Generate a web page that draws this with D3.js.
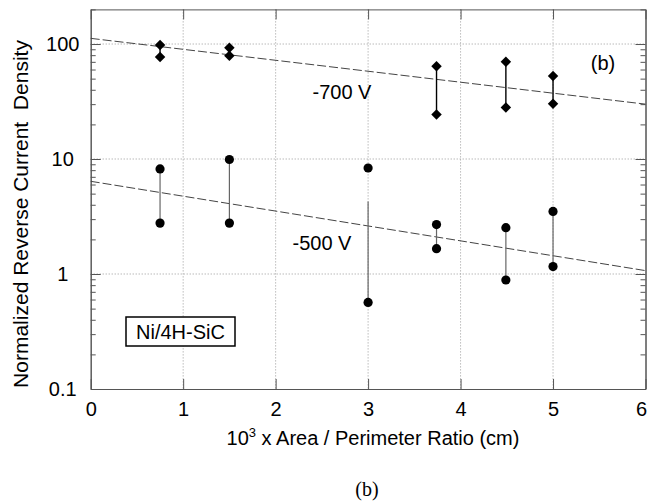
<!DOCTYPE html>
<html>
<head>
<meta charset="utf-8">
<script src="https://cdn.jsdelivr.net/npm/d3@7"></script>
<style>
  html, body { margin: 0; padding: 0; background: #fff; }
  svg { display: block; }
  text { font-family: "Liberation Sans", Arial, Helvetica, sans-serif; fill: #000; }
</style>
</head>
<body>
<svg id="chart" width="647" height="502"></svg>
<script>
// ---- data ----
const xTicks = [0, 1, 2, 3, 4, 5, 6];
const yMajorTicks = [0.1, 1, 10, 100];
const yTickLabels = ["0.1", "1", "10", "100"];

// -700 V series (diamonds)
const x700 = [0.75, 1.5, 3.74, 4.49, 5.0];
const hi700 = [98, 93, 64, 70, 52.7];
const lo700 = [77, 79, 24.4, 28.1, 30.3];

// -500 V series (circles)
const x500 = [0.75, 1.5, 3.0, 3.74, 4.49, 5.0];
const hi500 = [8.2, 9.9, 8.35, 2.69, 2.53, 3.5];
const lo500 = [2.77, 2.77, 0.566, 1.66, 0.887, 1.16];
const connTop500 = [8.2, 9.9, 4.28, 2.69, 2.53, 3.5];

// fit lines (value at x=0 and x=6)
const fitX = [0, 6];
const fit700 = [112, 30];
const fit500 = [6.4, 1.07];

// ---- layout ----
const svg = d3.select("#chart");
const L = 90.7, R = 645.5, T = 9.4, B = 389;
const x = d3.scaleLinear().domain([0, 6]).range([L, R]);
const y = d3.scaleLog().domain([0.1, 200]).range([B, T]);

const frameColor = "#555";

// minor y ticks
const yMinor = [];
[0.1, 1, 10, 100].forEach(d => { for (let k = 2; k <= 9; k++) { const v = d * k; if (v <= 200) yMinor.push(v); } });

// grid (dotted)
const grid = svg.append("g").attr("stroke", "#999").attr("stroke-width", 1).attr("stroke-dasharray", "1,2");
grid.selectAll("line.gx").data([1, 2, 3, 4, 5]).join("line")
  .attr("x1", d => x(d)).attr("x2", d => x(d)).attr("y1", T).attr("y2", B);
grid.selectAll("line.gy").data([1, 10, 100]).join("line")
  .attr("x1", L).attr("x2", R).attr("y1", d => y(d)).attr("y2", d => y(d));

// axes
function styleAxis(g) {
  g.select(".domain").attr("stroke", frameColor);
  g.selectAll(".tick line").attr("stroke", frameColor);
  g.selectAll(".tick text").attr("font-size", 21).attr("font-family", "Liberation Sans, Arial, sans-serif").attr("fill", "#000");
}

// bottom
const gB = svg.append("g").attr("transform", `translate(0,${B})`)
  .call(d3.axisBottom(x).tickValues(xTicks).tickFormat(d3.format("d")).tickSizeInner(-10).tickSizeOuter(0).tickPadding(13));
styleAxis(gB);
gB.selectAll(".tick text").attr("font-size", 20)
  .filter(d => d === 6).attr("text-anchor", "end").attr("dx", 1);

// top
const gT = svg.append("g").attr("transform", `translate(0,${T})`)
  .call(d3.axisTop(x).tickValues(xTicks).tickFormat("").tickSizeInner(-10).tickSizeOuter(0));
styleAxis(gT);

// left major
const gL = svg.append("g").attr("transform", `translate(${L},0)`)
  .call(d3.axisLeft(y).tickValues(yMajorTicks).tickFormat((d, i) => yTickLabels[i]).tickSizeInner(-10).tickSizeOuter(0).tickPadding(28));
styleAxis(gL);
gL.selectAll(".tick text").attr("text-anchor", "middle").attr("font-size", 20);
// left minor
const gLm = svg.append("g").attr("transform", `translate(${L},0)`)
  .call(d3.axisLeft(y).tickValues(yMinor).tickFormat("").tickSizeInner(-5).tickSizeOuter(0));
styleAxis(gLm);

// right major/minor
const gR = svg.append("g").attr("transform", `translate(${R},0)`)
  .call(d3.axisRight(y).tickValues(yMajorTicks).tickFormat("").tickSizeInner(-10).tickSizeOuter(0));
styleAxis(gR);
const gRm = svg.append("g").attr("transform", `translate(${R},0)`)
  .call(d3.axisRight(y).tickValues(yMinor).tickFormat("").tickSizeInner(-5).tickSizeOuter(0));
styleAxis(gRm);

// fit lines
const line = d3.line().x(d => x(d[0])).y(d => y(d[1]));
svg.append("path").datum(fitX.map((v, i) => [v, fit700[i]]))
  .attr("d", line).attr("fill", "none").attr("stroke", "#444").attr("stroke-width", 1).attr("stroke-dasharray", "9,3");
svg.append("path").datum(fitX.map((v, i) => [v, fit500[i]]))
  .attr("d", line).attr("fill", "none").attr("stroke", "#444").attr("stroke-width", 1).attr("stroke-dasharray", "9,3");

// connectors
svg.append("g").selectAll("line").data(x700).join("line")
  .attr("x1", d => x(d)).attr("x2", d => x(d))
  .attr("y1", (d, i) => y(hi700[i])).attr("y2", (d, i) => y(lo700[i]))
  .attr("stroke", "#000").attr("stroke-width", 1.4);
svg.append("g").selectAll("line").data(x500).join("line")
  .attr("x1", d => x(d)).attr("x2", d => x(d))
  .attr("y1", (d, i) => y(connTop500[i])).attr("y2", (d, i) => y(lo500[i]))
  .attr("stroke", "#666").attr("stroke-width", 1.2);

// markers
const diamond = d3.symbol().type(d3.symbolDiamond2).size(70);
const d700 = [];
x700.forEach((v, i) => { d700.push([v, hi700[i]]); d700.push([v, lo700[i]]); });
svg.append("g").selectAll("path").data(d700).join("path")
  .attr("d", diamond).attr("transform", d => `translate(${x(d[0])},${y(d[1])})`).attr("fill", "#000");

const d500 = [];
x500.forEach((v, i) => { d500.push([v, hi500[i]]); d500.push([v, lo500[i]]); });
svg.append("g").selectAll("circle").data(d500).join("circle")
  .attr("cx", d => x(d[0])).attr("cy", d => y(d[1])).attr("r", 4.6).attr("fill", "#000");

// annotations
svg.append("text").attr("x", 342).attr("y", 99).attr("text-anchor", "middle").attr("font-size", 20).text("-700 V");
svg.append("text").attr("x", 322).attr("y", 250).attr("text-anchor", "middle").attr("font-size", 20).text("-500 V");
svg.append("text").attr("x", 603).attr("y", 70).attr("text-anchor", "middle").attr("font-size", 20).text("(b)");

// legend box
svg.append("rect").attr("x", 126).attr("y", 317).attr("width", 109).attr("height", 29)
  .attr("fill", "#fff").attr("stroke", "#000").attr("stroke-width", 1.5);
svg.append("text").attr("x", 180.5).attr("y", 339).attr("text-anchor", "middle").attr("font-size", 20).text("Ni/4H-SiC");

// axis labels
const xl = svg.append("text").attr("x", 373).attr("y", 445).attr("text-anchor", "middle").attr("font-size", 20);
xl.append("tspan").text("10");
xl.append("tspan").attr("font-size", 13).attr("dy", -8).text("3");
xl.append("tspan").attr("dy", 8).text(" x Area / Perimeter Ratio (cm)");

svg.append("text").attr("transform", "translate(28,214) rotate(-90)").attr("text-anchor", "middle").attr("font-size", 21)
  .text("Normalized Reverse Current\u00a0 Density");

// caption
svg.append("text").attr("x", 367).attr("y", 496).attr("text-anchor", "middle")
  .style("font-family", "'Liberation Serif', 'Times New Roman', serif")
  .attr("font-size", 20).text("(b)");
</script>
</body>
</html>
